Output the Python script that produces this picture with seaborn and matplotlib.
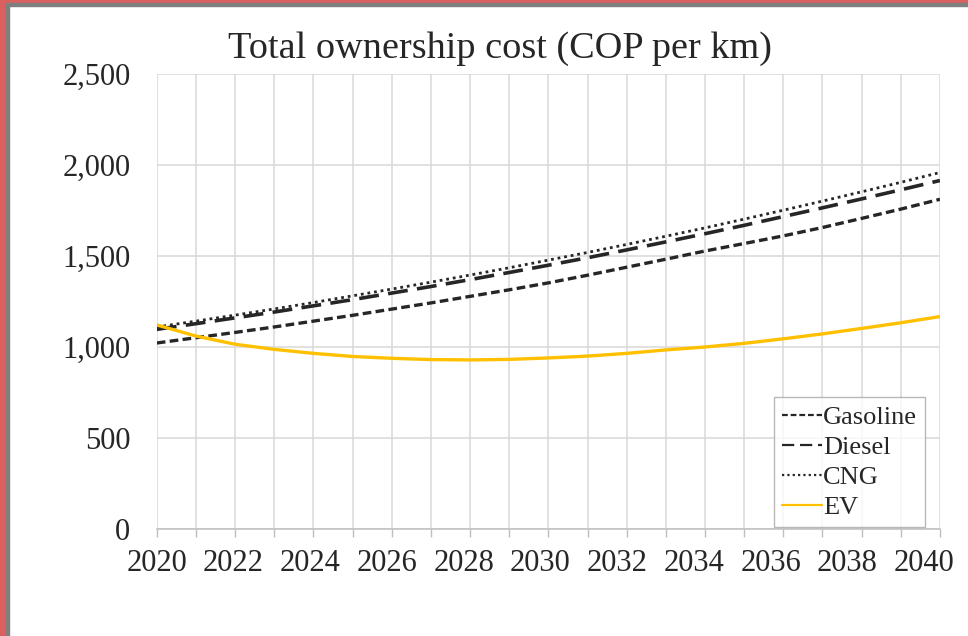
import matplotlib
matplotlib.use("Agg")
import matplotlib.pyplot as plt
import matplotlib.transforms as mtransforms
import seaborn as sns
import pandas as pd
from matplotlib.patches import Rectangle

# values (COP per km)
years = list(range(2020, 2041))
gasoline = [1022, 1051, 1080, 1110, 1142, 1174, 1208, 1242, 1278, 1314, 1352,
            1394, 1438, 1482, 1527, 1568, 1610, 1656, 1706, 1757, 1811]
diesel = [1097, 1128, 1160, 1192, 1226, 1260, 1296, 1332, 1370, 1409, 1449,
          1490, 1533, 1577, 1622, 1668, 1716, 1764, 1813, 1863, 1914]
cng = [1110, 1142, 1175, 1209, 1244, 1281, 1318, 1356, 1395, 1435, 1477,
       1519, 1563, 1608, 1654, 1702, 1751, 1801, 1852, 1904, 1958]
ev = [1121, 1060, 1015, 987, 965, 948, 938, 931, 929, 932, 940,
      950, 965, 984, 1000, 1020, 1045, 1072, 1102, 1133, 1167]

df = pd.DataFrame({'Year': years, 'Gasoline': gasoline, 'Diesel': diesel,
                   'CNG': cng, 'EV': ev})

sns.set_style('white')
plt.rcParams['font.family'] = ['Liberation Serif', 'DejaVu Serif']

fig = plt.figure(figsize=(9.68, 6.36), dpi=100)
ax = fig.add_axes([0.162, 0.168, 0.809, 0.716])

sns.lineplot(data=df, x='Year', y='Gasoline', ax=ax, color='#262626', lw=2.4,
             label='Gasoline').lines[-1].set_dashes([2.6, 1.3])
sns.lineplot(data=df, x='Year', y='Diesel', ax=ax, color='#262626', lw=2.6,
             label='Diesel').lines[-1].set_dashes([5.5, 2.6])
sns.lineplot(data=df, x='Year', y='CNG', ax=ax, color='#262626', lw=2.0,
             label='CNG').lines[-1].set_dashes([1, 1.4])
sns.lineplot(data=df, x='Year', y='EV', ax=ax, color='#FFC000', lw=2.4,
             label='EV')

ax.set_xlim(2020, 2040)
ax.set_ylim(0, 2500)
ax.set_xticks(years)
ax.set_xticklabels([str(y) if y % 2 == 0 else '' for y in years])
ax.set_yticks(range(0, 2501, 500))
ax.set_yticklabels([f'{v:,}' for v in range(0, 2501, 500)])
ax.grid(True, color='#D9D9D9', lw=1.1)
ax.set_axisbelow(True)
for s in ['left', 'top', 'right']:
    ax.spines[s].set_visible(False)
ax.spines['bottom'].set_color('#BFBFBF')
ax.spines['bottom'].set_linewidth(1.1)
ax.tick_params(axis='x', bottom=True, length=6, width=1, color='#BFBFBF',
               labelsize=22, pad=8)
ax.tick_params(axis='y', left=False, labelsize=22, pad=15.5)
ax.set_xlabel('')
ax.set_ylabel('')

# the year labels sit a little tighter than the gridlines in the original
for y, lab in zip(years, ax.get_xticklabels()):
    shift = -(y - 2020) / 20 * 0.16
    lab.set_transform(lab.get_transform() +
                      mtransforms.ScaledTranslation(shift, 0, fig.dpi_scale_trans))

fig.text(500 / 968, 1 - 49 / 636, 'Total ownership cost (COP per km)',
         fontsize=27.5, ha='center', va='center')

leg = ax.legend(loc='lower right', bbox_to_anchor=(925 / 968, 1 - 527 / 636),
                bbox_transform=fig.transFigure, fontsize=19, frameon=True,
                fancybox=False, handlelength=1.5, handletextpad=0.05,
                borderpad=0.3, labelspacing=0.25, borderaxespad=0)
leg.get_frame().set_edgecolor('#A6A6A6')
leg.get_frame().set_linewidth(1.0)
for h in leg.get_lines():
    h.set_linewidth(1.6)

# screenshot frame on left and top edges
fig.patches.append(Rectangle((0, 0), 6 / 968, 1, transform=fig.transFigure,
                             color='#D9605F', zorder=10))
fig.patches.append(Rectangle((6 / 968, 0), 3 / 968, 1 - 3 / 636,
                             transform=fig.transFigure, color='#7F7F7F', zorder=10))
fig.patches.append(Rectangle((0, 1 - 3 / 636), 1, 3 / 636, transform=fig.transFigure,
                             color='#D9605F', zorder=10))
fig.patches.append(Rectangle((6 / 968, 1 - 6 / 636), 1, 3 / 636,
                             transform=fig.transFigure, color='#7F7F7F', zorder=10))

fig.savefig('out.png', dpi=100)
